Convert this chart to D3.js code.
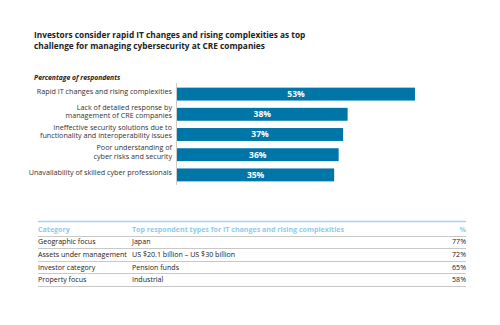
<!DOCTYPE html>
<html>
<head>
<meta charset="utf-8">
<script src="https://cdn.jsdelivr.net/npm/d3@7.9.0/dist/d3.min.js"></script>
<style>
  body { margin: 0; background: #fff; }
  svg { font-family: "Open Sans", sans-serif; display: block; }
</style>
</head>
<body>
<svg id="chart" width="500" height="325"></svg>
<script>
// challenge categories (label lines) and share of respondents
const challenges = [
  ["Rapid IT changes and rising complexities"],
  ["Lack of detailed response by", "management of CRE companies"],
  ["Ineffective security solutions due to", "functionality and interoperability issues"],
  ["Poor understanding of", "cyber risks and security"],
  ["Unavailability of skilled cyber professionals"]
];
const shares = [53, 38, 37, 36, 35];

// respondent breakdown table
const tableHeader = ["Category", "Top respondent types for IT changes and rising complexities", "%"];
const rowCategories = ["Geographic focus", "Assets under management", "Investor category", "Property focus"];
const rowTypes = ["Japan", "US $20.1 billion \u2013 US $30 billion", "Pension funds", "Industrial"];
const rowShares = [77, 72, 65, 58];

const svg = d3.select("#chart");
const blue = "#0076a8";

// title
const title = svg.append("text")
  .attr("x", 34).attr("y", 38)
  .attr("font-size", 8.3).attr("font-weight", 700).attr("fill", "#222");
["Investors consider rapid IT changes and rising complexities as top",
 "challenge for managing cybersecurity at CRE companies"].forEach((t, i) => {
  title.append("tspan").attr("x", 34).attr("dy", i ? 10.6 : 0).text(t);
});

svg.append("text")
  .attr("x", 34).attr("y", 80)
  .attr("font-size", 6.8).attr("font-weight", 700).attr("font-style", "italic")
  .attr("fill", "#222")
  .text("Percentage of respondents");

// bar chart
const x = d3.scaleLinear().domain([0, 60]).range([177, 177 + 4.49 * 60]);
const y = d3.scaleBand().domain(d3.range(shares.length)).range([84, 185]).paddingInner(0.36).paddingOuter(0.18);

svg.append("line")
  .attr("x1", x(0) - 0.5).attr("x2", x(0) - 0.5)
  .attr("y1", 83).attr("y2", 185)
  .attr("stroke", "#ccc").attr("stroke-width", 1);

svg.selectAll("rect.bar")
  .data(shares)
  .join("rect")
  .attr("class", "bar")
  .attr("x", x(0))
  .attr("y", (d, i) => y(i))
  .attr("width", d => x(d) - x(0))
  .attr("height", y.bandwidth())
  .attr("fill", blue);

svg.selectAll("text.val")
  .data(shares)
  .join("text")
  .attr("class", "val")
  .attr("x", d => (x(0) + x(d)) / 2)
  .attr("y", (d, i) => y(i) + y.bandwidth() / 2)
  .attr("dy", "0.35em")
  .attr("text-anchor", "middle")
  .attr("font-size", 8.5).attr("font-weight", 700).attr("fill", "#fff")
  .text(d => d + "%");

const labels = svg.selectAll("text.cat")
  .data(challenges)
  .join("text")
  .attr("class", "cat")
  .attr("text-anchor", "end")
  .attr("font-size", 7.2).attr("fill", "#333")
  .attr("y", (d, i) => y(i) + y.bandwidth() / 2 - (d.length - 1) * 4.6)
  .attr("dy", "0.35em");
labels.selectAll("tspan")
  .data(d => d)
  .join("tspan")
  .attr("x", 172)
  .attr("dy", (d, i) => i ? 8.5 : 0)
  .text(d => d);

// table
const tx = [38, 132, 466];
const headerY = 229.5;
const rowY = d3.scaleBand().domain(d3.range(rowCategories.length)).range([235.7, 286]);

svg.append("line")
  .attr("x1", 38).attr("x2", 466).attr("y1", 221.5).attr("y2", 221.5)
  .attr("stroke", "#9fd6f2").attr("stroke-width", 1.5);

svg.selectAll("text.head")
  .data(tableHeader)
  .join("text")
  .attr("class", "head")
  .attr("x", (d, i) => tx[i])
  .attr("y", headerY).attr("dy", "0.35em")
  .attr("text-anchor", (d, i) => i === 2 ? "end" : "start")
  .attr("font-size", 7.1).attr("font-weight", 700).attr("fill", "#8fcbed")
  .text(d => d);

const rowLines = [235.7].concat(rowCategories.map((d, i) => rowY(i) + rowY.bandwidth()));
svg.selectAll("line.row")
  .data(rowLines)
  .join("line")
  .attr("class", "row")
  .attr("x1", 38).attr("x2", 466)
  .attr("y1", d => Math.round(d) + 0.5).attr("y2", d => Math.round(d) + 0.5)
  .attr("stroke", "#c8c8c8").attr("stroke-width", 1);

const rows = svg.selectAll("g.trow")
  .data(rowCategories.map((c, i) => [c, rowTypes[i], rowShares[i] + "%"]))
  .join("g")
  .attr("class", "trow")
  .attr("transform", (d, i) => `translate(0,${rowY(i) + rowY.bandwidth() / 2})`);
rows.selectAll("text")
  .data(d => d)
  .join("text")
  .attr("x", (d, i) => tx[i])
  .attr("dy", "0.35em")
  .attr("text-anchor", (d, i) => i === 2 ? "end" : "start")
  .attr("font-size", 7.1).attr("fill", "#222")
  .text(d => d);
</script>
</body>
</html>
